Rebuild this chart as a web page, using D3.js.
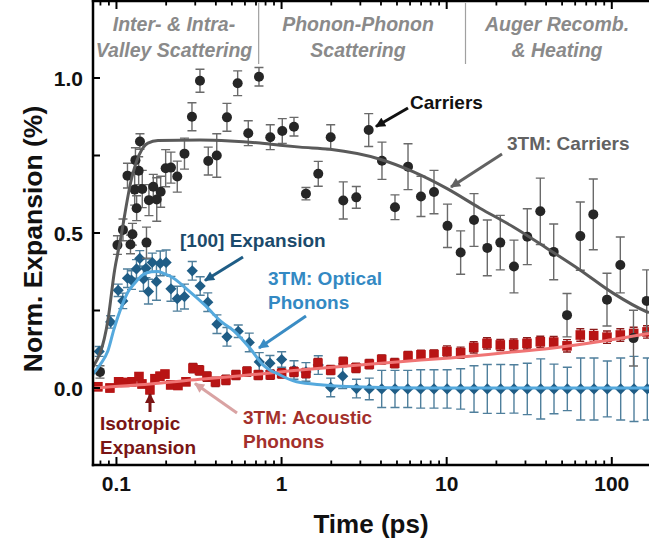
<!DOCTYPE html>
<html><head><meta charset="utf-8">
<script src="https://cdn.jsdelivr.net/npm/d3@7"></script>
<style>html,body{margin:0;padding:0;background:#fff;} svg{display:block;font-family:"Liberation Sans",Arial,sans-serif;font-weight:bold;}</style>
</head><body><svg id="c" width="649" height="541"></svg>
<script>
// ---------- DATA ----------
const carrierT = [0.0795,0.1014,0.1095,0.1166,0.1216,0.125,0.1289,0.1303,0.1325,0.1363,0.1388,0.1433,0.152,0.1573,0.1671,0.1754,0.1852,0.1986,0.2138,0.2335,0.2582,0.2866,0.3205,0.3597,0.405,0.4669,0.5421,0.6285,0.7297,0.8541,1.01,1.189,1.405,1.668,1.984,2.364,2.835,3.371,4.056,4.863,5.832,6.987,8.378,10.11,12.15,14.64,17.62,21.12,25.56,30.77,36.9,44.48,53.56,64.45,77.27,93.52,112.6,135.3,162.7];
const carrierV = [0.052,0.461,0.510,0.685,0.463,0.496,0.640,0.735,0.580,0.701,0.795,0.642,0.469,0.606,0.649,0.608,0.633,0.709,0.711,0.682,0.756,0.875,0.991,0.732,0.750,0.873,0.983,0.822,1.004,0.809,0.829,0.843,0.627,0.691,0.809,0.605,0.615,0.832,0.733,0.583,0.714,0.618,0.632,0.523,0.437,0.542,0.452,0.469,0.392,0.488,0.570,0.439,0.235,0.490,0.560,0.285,0.397,0.161,0.281];
const carrierErr = [0.02,0.03,0.035,0.04,0.03,0.035,0.05,0.04,0.04,0.045,0.025,0.06,0.05,0.05,0.04,0.07,0.05,0.06,0.05,0.05,0.05,0.045,0.037,0.045,0.07,0.045,0.04,0.04,0.03,0.04,0.04,0.03,0.02,0.04,0.04,0.06,0.035,0.053,0.06,0.04,0.074,0.065,0.07,0.07,0.07,0.085,0.09,0.088,0.085,0.09,0.107,0.09,0.07,0.11,0.114,0.085,0.09,0.09,0.1];

const opticalT = [0.0786,0.0922,0.1024,0.1092,0.1166,0.1233,0.1322,0.1384,0.1457,0.1509,0.1562,0.1647,0.1747,0.1842,0.1999,0.2138,0.2335,0.2582,0.2878,0.3214,0.3573,0.4061,0.4669,0.5466,0.6373,0.7325,0.8505,1.001,1.189,1.405,1.668,1.984,2.345,2.843,3.399,4.04,4.863,5.808,6.958,8.378,10.06,12.15,14.64,17.62,21.24,25.56,30.77,37.11,44.67,53.78,64.8,78.03,93.9,113.2,136.3,164.1];
const opticalV = [0.118,0.213,0.315,0.281,0.354,0.348,0.384,0.418,0.352,0.386,0.311,0.405,0.343,0.402,0.405,0.32,0.288,0.295,0.378,0.329,0.277,0.206,0.165,0.183,0.147,0.084,0.08,0.092,0.058,0.052,0.074,0.002,0.038,-0.002,-0.003,-0.003,-0.003,-0.003,-0.003,-0.003,-0.003,-0.003,-0.003,-0.003,-0.003,-0.003,-0.003,-0.003,-0.003,-0.003,-0.003,-0.003,-0.003,-0.003,-0.003,-0.003];
const opticalErr = [0.016,0.02,0.02,0.025,0.03,0.03,0.03,0.025,0.04,0.03,0.04,0.03,0.06,0.04,0.04,0.04,0.04,0.04,0.03,0.03,0.03,0.03,0.03,0.02,0.03,0.03,0.025,0.025,0.03,0.03,0.03,0.03,0.04,0.03,0.035,0.06,0.06,0.06,0.062,0.062,0.062,0.065,0.075,0.079,0.079,0.078,0.083,0.097,0.08,0.07,0.1,0.1,0.09,0.1,0.105,0.1];

const isoT = [0.0772,0.0913,0.1031,0.1125,0.1242,0.1369,0.1427,0.1595,0.171,0.1834,0.1967,0.213,0.2358,0.2636,0.2906,0.3182,0.3533,0.3978,0.4604,0.5294,0.6171,0.7227,0.8543,1.001,1.189,1.405,1.661,1.984,2.364,2.823,3.399,4.04,4.842,5.832,6.987,8.378,10.04,12.15,14.58,17.54,21.12,25.46,30.64,36.9,44.48,53.56,64.45,77.7,93.52,112.6,135.7,163.4];
const isoV = [0.004,0.0,0.02,0.018,0.02,0.037,0.013,-0.006,0.03,0.038,0.045,0.01,0.008,0.02,0.064,0.057,0.037,0.02,0.026,0.042,0.053,0.042,0.043,0.047,0.052,0.048,0.08,0.058,0.084,0.065,0.077,0.092,0.08,0.103,0.107,0.108,0.118,0.114,0.131,0.144,0.139,0.14,0.144,0.149,0.148,0.136,0.171,0.169,0.164,0.171,0.176,0.181];
const isoErr = [0.012,0.012,0.012,0.012,0.012,0.012,0.012,0.012,0.012,0.012,0.012,0.012,0.012,0.012,0.015,0.015,0.015,0.015,0.015,0.015,0.015,0.015,0.015,0.015,0.015,0.015,0.015,0.015,0.015,0.015,0.015,0.015,0.015,0.015,0.015,0.015,0.018,0.018,0.018,0.018,0.018,0.018,0.018,0.018,0.018,0.02,0.02,0.02,0.02,0.02,0.02,0.02];

const fitCarrierT = [0.0721,0.0888,0.0975,0.1046,0.1229,0.1551,0.1784,0.3205,0.4869,0.74,0.978,1.292,1.964,3.945,6.251,10.0,15.91,25.21,40.35,64.18,101.7,162.7,168];
const fitCarrierV = [0.068,0.219,0.381,0.465,0.671,0.790,0.798,0.80,0.797,0.79,0.783,0.777,0.770,0.738,0.698,0.644,0.580,0.520,0.451,0.381,0.306,0.246,0.243];
const fitOpticalT = [0.0721,0.0795,0.0888,0.0966,0.1069,0.1174,0.1289,0.1447,0.1625,0.1784,0.1967,0.2147,0.2711,0.3421,0.4313,0.5199,0.6435,0.7746,0.9779,1.234,1.789,2.479,7.923,168];
const fitOpticalV = [0.045,0.075,0.12,0.19,0.26,0.31,0.338,0.365,0.375,0.376,0.368,0.359,0.316,0.268,0.214,0.182,0.128,0.074,0.042,0.02,0.01,0.005,0.0,0.0];
const fitAcousticT = [0.0721,0.1595,0.3205,0.4869,1.292,2.596,5.213,10.47,21.02,43.0,84.8,168];
const fitAcousticV = [0.0,0.013,0.028,0.036,0.058,0.072,0.085,0.097,0.112,0.128,0.150,0.176];

const xMajorTicks = [0.1, 1, 10, 100];
const xTickLabels = ["0.1", "1", "10", "100"];
const yTicks = [0, 0.25, 0.5, 0.75, 1.0];
const yTickLabels = ["0.0", "", "0.5", "", "1.0"];
const regionDividers = [0.7265, 13.0];

// ---------- SCALES ----------
const svg = d3.select("#c");
const L = 93, R = 649, T = 1, B = 465;
const x = d3.scaleLog().domain([0.0721, 168]).range([L, R]);
const y = d3.scaleLinear().domain([-0.25, 1.25]).range([465.5, 0.5]);

svg.append("defs").append("clipPath").attr("id","clip")
  .append("rect").attr("x",L).attr("y",0).attr("width",R-L+10).attr("height",B);

const plot = svg.append("g").attr("clip-path","url(#clip)");

function errBars(g, T_, V_, E_, color, cap) {
  const d = T_.map((t,i)=>({t, v:V_[i], e:E_[i]}));
  const gg = g.append("g").attr("stroke", color).attr("stroke-width", 1.4).attr("fill","none");
  gg.selectAll("path").data(d).enter().append("path")
    .attr("d", p => {
      const cx = x(p.t), y1 = y(p.v + p.e), y2 = y(p.v - p.e);
      return `M${cx},${y1}V${y2}M${cx-cap},${y1}H${cx+cap}M${cx-cap},${y2}H${cx+cap}`;
    });
  return d;
}

// optical (blue diamonds)
const od = errBars(plot, opticalT, opticalV, opticalErr, "#4f7f9c", 4.5);
plot.append("g").selectAll("path").data(od).enter().append("path")
  .attr("d", p => { const cx=x(p.t), cy=y(p.v), s=5.6; return `M${cx},${cy-s}L${cx+s},${cy}L${cx},${cy+s}L${cx-s},${cy}Z`; })
  .attr("fill", "#1f5d86");

// isotropic (red squares)
const idd = errBars(plot, isoT, isoV, isoErr, "#8c1b1b", 4);
plot.append("g").selectAll("rect").data(idd).enter().append("rect")
  .attr("x", p => x(p.t)-4.8).attr("y", p => y(p.v)-4.8).attr("width", 9.6).attr("height", 9.6)
  .attr("fill", "#b81414");

// carriers (black circles)
const cd = errBars(plot, carrierT, carrierV, carrierErr, "#6a6a6a", 4.5);
plot.append("g").selectAll("circle").data(cd).enter().append("circle")
  .attr("cx", p => x(p.t)).attr("cy", p => y(p.v)).attr("r", 5)
  .attr("fill", "#262626");

// fits
const line = d3.line().x(d=>x(d[0])).y(d=>y(d[1])).curve(d3.curveMonotoneX);
plot.append("path").datum(fitAcousticT.map((t,i)=>[t,fitAcousticV[i]]))
  .attr("d", line).attr("fill","none").attr("stroke","#f07474").attr("stroke-width",3);
plot.append("path").datum(fitOpticalT.map((t,i)=>[t,fitOpticalV[i]]))
  .attr("d", line).attr("fill","none").attr("stroke","#55a9dd").attr("stroke-width",3);
plot.append("path").datum(fitCarrierT.map((t,i)=>[t,fitCarrierV[i]]))
  .attr("d", line).attr("fill","none").attr("stroke","#5a5a5a").attr("stroke-width",3);

// ---------- AXES ----------
const minorTicks = [];
[0.01,0.1,1,10,100].forEach(dec => { for (let k=2;k<=9;k++){ const v=dec*k; if (v>=0.0721 && v<=168) minorTicks.push(v);} });

const axG = svg.append("g").attr("stroke","#000");
// frame
axG.append("line").attr("x1",L).attr("x2",L).attr("y1",0).attr("y2",B+1.2).attr("stroke-width",2.5);
axG.append("line").attr("x1",L-1.2).attr("x2",R+2).attr("y1",B).attr("y2",B).attr("stroke-width",2.5);
axG.append("line").attr("x1",L-1.2).attr("x2",R+2).attr("y1",T).attr("y2",T).attr("stroke-width",2.5);
// x ticks bottom & top
xMajorTicks.forEach(v => {
  axG.append("line").attr("x1",x(v)).attr("x2",x(v)).attr("y1",B).attr("y2",B-8).attr("stroke-width",2);
  axG.append("line").attr("x1",x(v)).attr("x2",x(v)).attr("y1",T).attr("y2",T+8).attr("stroke-width",2);
});
minorTicks.forEach(v => {
  axG.append("line").attr("x1",x(v)).attr("x2",x(v)).attr("y1",B).attr("y2",B-4.5).attr("stroke-width",1.8);
  axG.append("line").attr("x1",x(v)).attr("x2",x(v)).attr("y1",T).attr("y2",T+4.5).attr("stroke-width",1.8);
});
// y ticks
yTicks.forEach(v => {
  axG.append("line").attr("x1",L).attr("x2",L+7).attr("y1",y(v)).attr("y2",y(v)).attr("stroke-width",2);
});

// tick labels
xMajorTicks.forEach((v,i) => {
  svg.append("text").attr("x", x(v)).attr("y", 491).attr("text-anchor","middle")
    .attr("font-size", 21).attr("fill","#111").text(xTickLabels[i]);
});
yTicks.forEach((v,i) => {
  if (!yTickLabels[i]) return;
  svg.append("text").attr("x", 83).attr("y", y(v)+7.5).attr("text-anchor","end")
    .attr("font-size", 21).attr("fill","#111").text(yTickLabels[i]);
});
svg.append("text").attr("x", 371).attr("y", 533).attr("text-anchor","middle")
  .attr("font-size", 26).attr("fill","#111").text("Time (ps)");
svg.append("text").attr("transform","translate(42,239) rotate(-90)").attr("text-anchor","middle")
  .attr("font-size", 26.5).attr("fill","#111").text("Norm. Expansion (%)");

// ---------- REGION LABELS ----------
regionDividers.forEach(t => {
  svg.append("line").attr("x1",x(t)).attr("x2",x(t)).attr("y1",3).attr("y2",64)
    .attr("stroke","#a0a0a0").attr("stroke-width",1.2);
});
const regionText = [
  {cx:174, lines:["Inter- & Intra-","Valley Scattering"]},
  {cx:358, lines:["Phonon-Phonon","Scattering"]},
  {cx:557, lines:["Auger Recomb.","& Heating"]}
];
regionText.forEach(r => r.lines.forEach((s,i) => {
  svg.append("text").attr("x", r.cx).attr("y", 31 + i*26).attr("text-anchor","middle")
    .attr("font-size", 19.5).attr("font-style","italic").attr("fill","#8a8a8a").text(s);
}));

// ---------- ANNOTATIONS ----------
const defs = svg.select("defs");
function marker(id, color){
  defs.append("marker").attr("id",id).attr("viewBox","0 0 10 10").attr("refX",9).attr("refY",5)
    .attr("markerWidth",12).attr("markerHeight",10).attr("markerUnits","userSpaceOnUse").attr("orient","auto")
    .append("path").attr("d","M0,0L10,5L0,10Z").attr("fill",color);
}
function arrow(x1,y1,x2,y2,color,id){
  marker(id,color);
  svg.append("line").attr("x1",x1).attr("y1",y1).attr("x2",x2).attr("y2",y2)
    .attr("stroke",color).attr("stroke-width",3).attr("marker-end",`url(#${id})`);
}
function label(x0,y0,lines,color,size,lh){
  lines.forEach((s,i)=> svg.append("text").attr("x",x0).attr("y",y0+i*lh)
    .attr("font-size",size).attr("fill",color).text(s));
}
label(410,108.5,["Carriers"],"#111",19,0);
arrow(408,108,376,126.5,"#111","a1");
label(507,149.5,["3TM: Carriers"],"#626262",19,0);
arrow(502,154,451,187,"#626262","a2");
label(180,246.5,["[100] Expansion"],"#1b4a6b",19,0);
arrow(243,257,205,280.5,"#1f5d86","a3");
label(268,285,["3TM: Optical","Phonons"],"#3389c3",19,23.5);
arrow(306,316,259,348,"#3a8cc4","a4");
label(100,430,["Isotropic","Expansion"],"#7a1515",19,24);
arrow(150,412,150,394,"#7a1515","a5");
label(243,424,["3TM: Acoustic","Phonons"],"#a3302c",19,23.5);
arrow(237,413,195,383.5,"#d9a3a3","a6");
</script></body></html>
